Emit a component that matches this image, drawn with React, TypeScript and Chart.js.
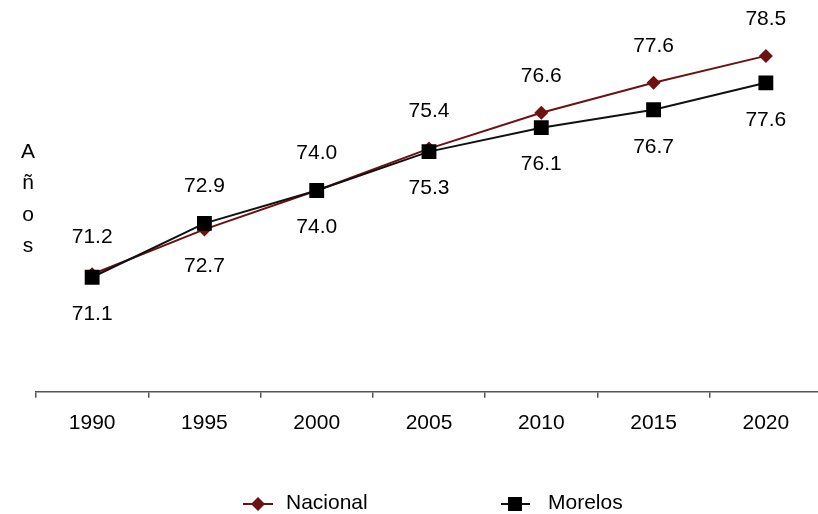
import React, { useEffect, useRef } from "react";
import { Chart, registerables } from "chart.js";

Chart.register(...registerables);

const years = ["1990", "1995", "2000", "2005", "2010", "2015", "2020"];
const nacional = [71.2, 72.7, 74.0, 75.4, 76.6, 77.6, 78.5];
const morelos = [71.1, 72.9, 74.0, 75.3, 76.1, 76.7, 77.6];
const seriesNames = ["Nacional", "Morelos"];
const axisTitleLetters = ["A", "ñ", "o", "s"];

const NAC_COLOR = "#6E1111";
const MOR_COLOR = "#111111";
const FONT = '21px "Liberation Sans", Arial, sans-serif';

const valueLabels = {
  id: "valueLabels",
  afterDatasetsDraw(chart: any) {
    const ctx = chart.ctx;
    const nMeta = chart.getDatasetMeta(0);
    const mMeta = chart.getDatasetMeta(1);
    ctx.save();
    ctx.font = FONT;
    ctx.fillStyle = "#000";
    ctx.textAlign = "center";
    ctx.textBaseline = "middle";
    years.forEach((_, i) => {
      const nAbove = nacional[i] >= morelos[i];
      const np = nMeta.data[i];
      const mp = mMeta.data[i];
      ctx.fillText(nacional[i].toFixed(1), np.x, np.y + (nAbove ? -37 : 37));
      ctx.fillText(morelos[i].toFixed(1), mp.x, mp.y + (nAbove ? 37 : -37));
    });
    ctx.restore();
  },
};

const decorations = {
  id: "decorations",
  afterDraw(chart: any) {
    const ctx = chart.ctx;
    ctx.save();
    ctx.font = FONT;
    ctx.fillStyle = "#000";
    ctx.textAlign = "center";
    ctx.textBaseline = "middle";
    axisTitleLetters.forEach((ch, i) => {
      ctx.fillText(ch, 28, 152 + i * 31.5);
    });
    // legend
    const ly = 504;
    // Nacional
    ctx.strokeStyle = NAC_COLOR;
    ctx.lineWidth = 2;
    ctx.beginPath();
    ctx.moveTo(243, ly);
    ctx.lineTo(273, ly);
    ctx.stroke();
    ctx.fillStyle = NAC_COLOR;
    ctx.beginPath();
    ctx.moveTo(258 - 7, ly);
    ctx.lineTo(258, ly - 7);
    ctx.lineTo(258 + 7, ly);
    ctx.lineTo(258, ly + 7);
    ctx.closePath();
    ctx.fill();
    // Morelos
    ctx.strokeStyle = MOR_COLOR;
    ctx.beginPath();
    ctx.moveTo(501, ly);
    ctx.lineTo(530, ly);
    ctx.stroke();
    ctx.fillStyle = "#000";
    ctx.fillRect(515 - 7, ly - 7, 14, 14);
    ctx.fillStyle = "#000";
    ctx.textAlign = "left";
    ctx.fillText(seriesNames[0], 286, ly - 1);
    ctx.fillText(seriesNames[1], 548, ly - 1);
    ctx.restore();
  },
};

export default function App() {
  const ref = useRef<HTMLCanvasElement>(null);
  useEffect(() => {
    document.body.style.margin = "0";
    const chart = new Chart(ref.current!, {
      type: "line",
      data: {
        labels: years,
        datasets: [
          {
            label: seriesNames[0],
            data: nacional,
            borderColor: NAC_COLOR,
            backgroundColor: NAC_COLOR,
            borderWidth: 2,
            pointStyle: "rectRot",
            pointRadius: 7,
            pointBorderWidth: 0,
            pointBackgroundColor: NAC_COLOR,
            tension: 0,
            order: 1,
          },
          {
            label: seriesNames[1],
            data: morelos,
            borderColor: MOR_COLOR,
            backgroundColor: "#000",
            borderWidth: 2,
            pointStyle: "rect",
            pointRadius: 10.5,
            pointBorderWidth: 0,
            pointBackgroundColor: "#000",
            tension: 0,
            order: 0,
          },
        ],
      },
      options: {
        responsive: false,
        animation: false,
        layout: { autoPadding: false, padding: { left: 36, right: 0, top: 20, bottom: 65 } },
        plugins: {
          legend: { display: false },
          tooltip: { enabled: false },
        },
        scales: {
          x: {
            type: "category",
            offset: true,
            grid: {
              offset: true,
              drawOnChartArea: false,
              drawTicks: true,
              tickLength: 6,
              color: "#555",
              lineWidth: 1.5,
            },
            border: { display: true, color: "#555", width: 1.5 },
            ticks: {
              color: "#000",
              font: { family: '"Liberation Sans", Arial, sans-serif', size: 21 },
              padding: 13,
              maxRotation: 0,
            },
          },
          y: {
            display: false,
            min: 67.27,
            max: 79.7,
          },
        },
      },
      plugins: [valueLabels, decorations],
    });
    return () => chart.destroy();
  }, []);
  return (
    <div style={{ position: "absolute", left: 0, top: 0, width: 818, height: 514, overflow: "hidden" }}>
      <canvas ref={ref} width={822} height={514} />
    </div>
  );
}
